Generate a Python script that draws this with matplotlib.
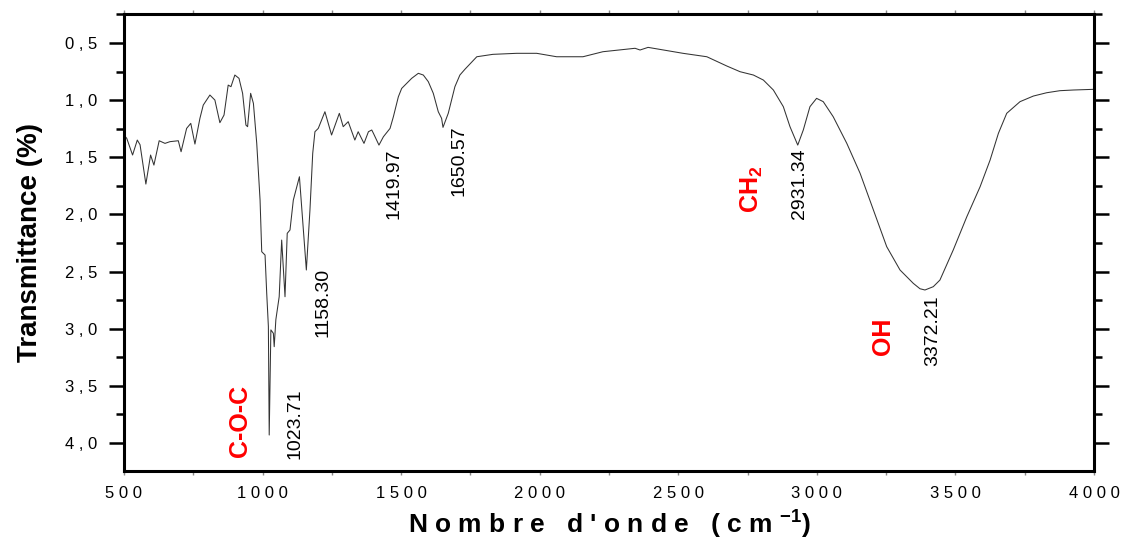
import numpy as np
import matplotlib
matplotlib.use('Agg')
import matplotlib.pyplot as plt
from matplotlib.ticker import MultipleLocator, FixedLocator

plt.rcParams['font.family'] = ['Liberation Sans', 'DejaVu Sans']
plt.rcParams['mathtext.fontset'] = 'custom'
plt.rcParams['mathtext.rm'] = 'Liberation Sans'
plt.rcParams['mathtext.bf'] = 'Liberation Sans:bold'

# IR spectrum: wavenumber (cm-1) and transmittance
wavenumber = [500, 510, 531, 548, 558, 579, 596, 608, 627, 648, 666, 696, 706, 726,
              741, 756, 774, 786, 810, 828, 846, 861, 876, 886, 900, 915, 928, 940,
              946, 957, 967, 979, 991, 997, 1009, 1015, 1021, 1024, 1030, 1039, 1042,
              1048, 1060, 1069, 1081, 1089, 1099, 1111, 1133, 1141, 1158, 1171, 1181,
              1189, 1201, 1225, 1249, 1277, 1291, 1309, 1333, 1345, 1366, 1382, 1394,
              1400, 1420, 1436, 1460, 1472, 1490, 1502, 1520, 1538, 1562, 1580, 1598,
              1616, 1634, 1646, 1651, 1670, 1694, 1712, 1730, 1773, 1831, 1917, 1989,
              2061, 2156, 2228, 2344, 2362, 2391, 2517, 2603, 2675, 2723, 2771, 2807,
              2843, 2879, 2903, 2931, 2951, 2975, 2999, 3023, 3059, 3108, 3156, 3204,
              3252, 3300, 3348, 3372, 3390, 3420, 3444, 3492, 3541, 3589, 3625, 3655,
              3685, 3733, 3781, 3829, 3877, 3926, 4000]
transmittance = [1.305, 1.334, 1.48, 1.349, 1.39, 1.734, 1.48, 1.568, 1.355, 1.378, 1.363,
                 1.355, 1.451, 1.247, 1.203, 1.384, 1.159, 1.043, 0.955, 0.999, 1.197,
                 1.13, 0.868, 0.882, 0.78, 0.809, 0.94, 1.218, 1.232, 0.94, 1.028, 1.378,
                 1.874, 2.326, 2.355, 2.69, 2.98, 3.93, 3.01, 3.04, 3.157, 2.92, 2.72,
                 2.224, 2.72, 2.165, 2.136, 1.874, 1.67, 1.932, 2.486, 1.961, 1.465,
                 1.276, 1.247, 1.101, 1.305, 1.115, 1.232, 1.188, 1.349, 1.276, 1.378,
                 1.276, 1.261, 1.29, 1.393, 1.32, 1.247, 1.145, 0.97, 0.897, 0.853,
                 0.809, 0.765, 0.78, 0.838, 0.94, 1.101, 1.159, 1.238, 1.115, 0.882,
                 0.78, 0.73, 0.62, 0.599, 0.59, 0.59, 0.62, 0.62, 0.576, 0.546, 0.561,
                 0.538, 0.59, 0.62, 0.701, 0.751, 0.78, 0.824, 0.911, 1.057, 1.232,
                 1.393, 1.261, 1.057, 0.984, 1.013, 1.145, 1.378, 1.64, 1.961, 2.282,
                 2.486, 2.603, 2.65, 2.661, 2.632, 2.574, 2.311, 2.02, 1.757, 1.524,
                 1.29, 1.115, 1.013, 0.964, 0.935, 0.917, 0.911, 0.905]

# peak labels (text, x, top of text in y)
peak_labels = ['1023.71', '1158.30', '1419.97', '1650.57', '2931.34', '3372.21']
peak_x = [1117, 1218, 1474, 1709, 2939, 3419]
peak_y = [3.52, 2.47, 1.42, 1.22, 1.42, 2.705]

group_labels = ['C-O-C', 'CH$_{\\mathbf{2}}$', 'OH']
group_x = [919, 2766, 3239]
group_y = [3.49, 1.57, 2.906]

x_ticks = [500, 1000, 1500, 2000, 2500, 3000, 3500, 4000]
y_ticks = [0.5, 1.0, 1.5, 2.0, 2.5, 3.0, 3.5, 4.0]

fig = plt.figure(figsize=(11.23, 5.47), dpi=100)
ax = fig.add_axes([0.1104, 0.1389, 0.8638, 0.8355])

ax.plot(wavenumber, transmittance, color='#333333', lw=0.75)

ax.set_xlim(500, 4000)
ax.set_ylim(4.245, 0.246)

ax.xaxis.set_major_locator(FixedLocator(x_ticks))
ax.xaxis.set_minor_locator(MultipleLocator(250))
ax.yaxis.set_major_locator(FixedLocator(y_ticks))
ax.yaxis.set_minor_locator(MultipleLocator(0.25))
ax.set_xticklabels([' '.join(str(v)) for v in x_ticks], fontsize=12)
ax.set_yticklabels([('%.1f' % v).replace('.', ' , ') for v in y_ticks], fontsize=12)

for s in ax.spines.values():
    s.set_linewidth(2.2)

ax.tick_params(axis='y', which='major', direction='out', length=11, width=1.8, pad=8)
ax.tick_params(axis='y', which='minor', direction='out', length=6, width=1.8)
ax.tick_params(axis='y', which='both', right=True, labelright=False)
ax.tick_params(axis='x', which='both', direction='out', length=3, width=1, top=True, pad=8,
               color='#888888')

for lab, x, y in zip(peak_labels, peak_x, peak_y):
    ax.text(x, y, lab, rotation=90, ha='center', va='top', fontsize=14)

for lab, x, y in zip(group_labels, group_x, group_y):
    ax.text(x, y, lab, rotation=90, ha='center', va='top', fontsize=18,
            fontweight='bold', color='red')

ax.set_ylabel('Transmittance (%)', fontsize=20, fontweight='bold', labelpad=16)
ax.set_xlabel("N o m b r e   d ' o n d e   ( c m $^{\\mathbf{-1}}$)", fontsize=19,
              fontweight='bold', labelpad=4)

fig.savefig('out.png', dpi=100)
